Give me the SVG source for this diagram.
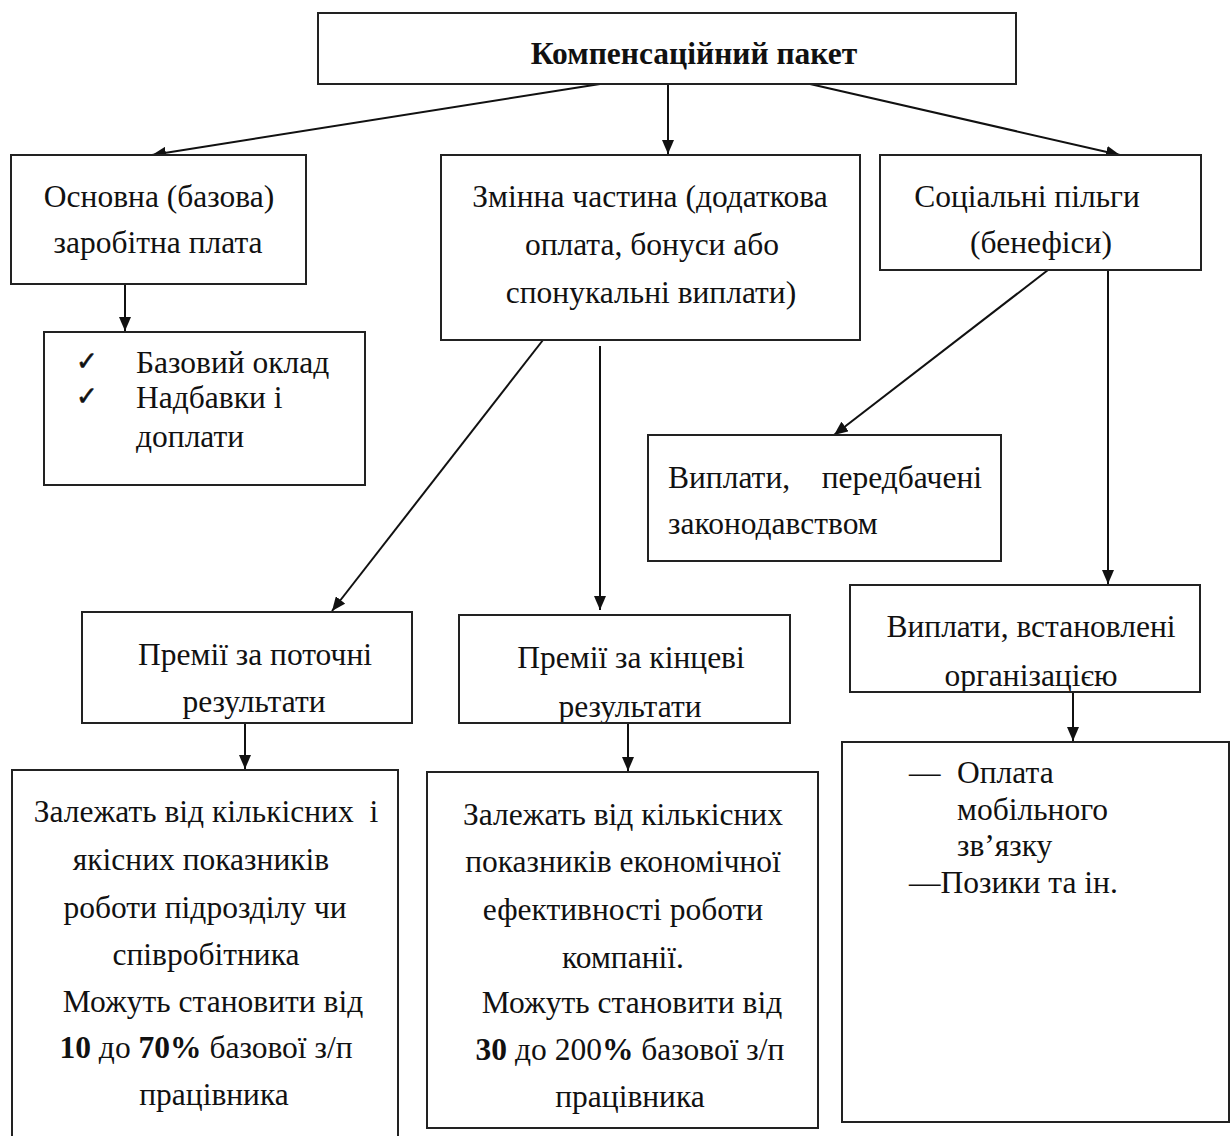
<svg xmlns="http://www.w3.org/2000/svg" width="1232" height="1136" viewBox="0 0 1232 1136">
<defs>
<marker id="ah" viewBox="0 0 14 12" refX="14" refY="6" markerWidth="14" markerHeight="12" markerUnits="userSpaceOnUse" orient="auto">
<path d="M0,0 L14,6 L0,12 z" fill="#111"/>
</marker>
<clipPath id="clipOrg"><rect x="850" y="585" width="350" height="107"/></clipPath>
<clipPath id="clipFinal"><rect x="459" y="615" width="331" height="108"/></clipPath>
<style>
.box{fill:#fff;stroke:#222;stroke-width:2}
.frame{fill:none;stroke:#222;stroke-width:2}
.t{font-family:"Liberation Serif","Times New Roman",serif;font-size:31.5px;fill:#111}
.c{text-anchor:middle}
.b{font-weight:bold}
.con{stroke:#111;stroke-width:2;fill:none;marker-end:url(#ah)}
.chk{font-family:"DejaVu Sans",sans-serif;font-size:26px;fill:#111;stroke:#111;stroke-width:0.6}
</style>
</defs>
<rect width="1232" height="1136" fill="#fff"/>
<g id="connectors">
<line class="con" x1="600" y1="84" x2="152" y2="155"/>
<line class="con" x1="668" y1="84" x2="668" y2="154"/>
<line class="con" x1="810" y1="84" x2="1120" y2="155"/>
<line class="con" x1="125" y1="284" x2="125" y2="331"/>
<line class="con" x1="543" y1="340" x2="332" y2="611"/>
<line class="con" x1="600" y1="346" x2="600" y2="610"/>
<line class="con" x1="1048" y1="270" x2="834" y2="435"/>
<line class="con" x1="1108" y1="270" x2="1108" y2="584"/>
<line class="con" x1="245" y1="723" x2="245" y2="769"/>
<line class="con" x1="628" y1="723" x2="628" y2="771"/>
<line class="con" x1="1073" y1="692" x2="1073" y2="741"/>
</g>
<g id="n-root">
<rect class="box" x="318" y="13" width="698" height="71"/>
<text class="t c b" x="694" y="64">Компенсаційний пакет</text>
</g>
<g id="n-base">
<rect class="box" x="11" y="155" width="295" height="129"/>
<text class="t c" x="159" y="207">Основна (базова)</text>
<text class="t c" x="158" y="253">заробітна плата</text>
</g>
<g id="n-base-list">
<rect class="box" x="44" y="332" width="321" height="153"/>
<text class="chk" x="76" y="370">✓</text>
<text class="chk" x="76" y="405">✓</text>
<text class="t" x="136" y="373">Базовий оклад</text>
<text class="t" x="136" y="408">Надбавки і</text>
<text class="t" x="136" y="447">доплати</text>
</g>
<g id="n-variable">
<rect class="box" x="441" y="155" width="419" height="185"/>
<text class="t c" x="650" y="207">Змінна частина (додаткова</text>
<text class="t c" x="652" y="255">оплата, бонуси або</text>
<text class="t c" x="651" y="303">спонукальні виплати)</text>
</g>
<g id="n-social">
<rect class="box" x="880" y="155" width="321" height="115"/>
<text class="t c" x="1027" y="207">Соціальні пільги</text>
<text class="t c" x="1041" y="253">(бенефіси)</text>
</g>
<g id="n-legal">
<rect class="box" x="648" y="435" width="353" height="126"/>
<text class="t" x="668" y="488">Виплати,</text>
<text class="t" x="982" y="488" text-anchor="end">передбачені</text>
<text class="t" x="668" y="534">законодавством</text>
</g>
<g id="n-org">
<rect class="box" x="850" y="585" width="350" height="107"/>
<g clip-path="url(#clipOrg)">
<text class="t c" x="1031" y="637">Виплати, встановлені</text>
<text class="t c" x="1031" y="686">організацією</text>
</g>
<rect class="frame" x="850" y="585" width="350" height="107"/>
</g>
<g id="n-current">
<rect class="box" x="82" y="612" width="330" height="111"/>
<text class="t c" x="255" y="665">Премії за поточні</text>
<text class="t c" x="254" y="712">результати</text>
</g>
<g id="n-final">
<rect class="box" x="459" y="615" width="331" height="108"/>
<g clip-path="url(#clipFinal)">
<text class="t c" x="631" y="668">Премії за кінцеві</text>
<text class="t c" x="630" y="717">результати</text>
</g>
<rect class="frame" x="459" y="615" width="331" height="108"/>
</g>
<g id="n-current-desc">
<rect class="box" x="12" y="770" width="386" height="380"/>
<text class="t c" x="206" y="822" xml:space="preserve">Залежать від кількісних  і</text>
<text class="t c" x="201" y="870">якісних показників</text>
<text class="t c" x="205" y="918">роботи підрозділу чи</text>
<text class="t c" x="206" y="965">співробітника</text>
<text class="t c" x="213" y="1012">Можуть становити від</text>
<text class="t c" x="206" y="1058"><tspan class="b">10</tspan> до <tspan class="b">70%</tspan> базової з/п</text>
<text class="t c" x="214" y="1105">працівника</text>
</g>
<g id="n-final-desc">
<rect class="box" x="427" y="772" width="391" height="356"/>
<text class="t c" x="623" y="825">Залежать від кількісних</text>
<text class="t c" x="623" y="872">показників економічної</text>
<text class="t c" x="623" y="920">ефективності роботи</text>
<text class="t c" x="623" y="968">компанії.</text>
<text class="t c" x="632" y="1013">Можуть становити від</text>
<text class="t c" x="630" y="1060"><tspan class="b">30</tspan> до 200<tspan class="b">%</tspan> базової з/п</text>
<text class="t c" x="630" y="1107">працівника</text>
</g>
<g id="n-org-desc">
<rect class="box" x="842" y="742" width="387" height="380"/>
<text class="t" x="909" y="783">—</text>
<text class="t" x="957" y="783">Оплата</text>
<text class="t" x="957" y="820">мобільного</text>
<text class="t" x="957" y="856">зв’язку</text>
<text class="t" x="909" y="893">—Позики та ін.</text>
</g>
</svg>
